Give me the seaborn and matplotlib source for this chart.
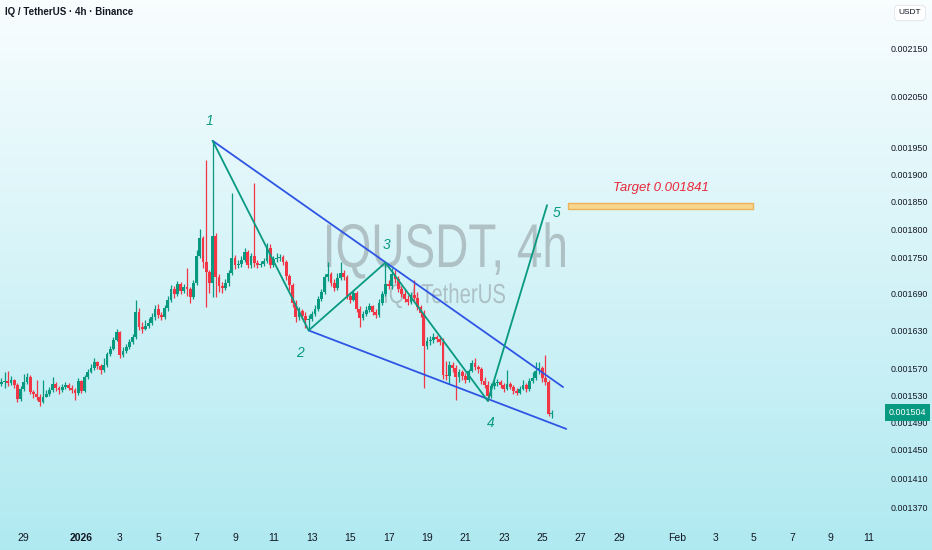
import numpy as np
import pandas as pd
import matplotlib
matplotlib.use('Agg')
import matplotlib.pyplot as plt
import matplotlib.transforms as mtransforms
from matplotlib import font_manager as fm
from matplotlib.textpath import TextPath
from matplotlib.patches import PathPatch
from matplotlib.ticker import NullLocator
import seaborn as sns

# IQ/USDT 4h candles, prices in 1e-6 USDT
opens = [1547, 1550, 1551, 1548, 1553, 1545, 1524, 1539, 1550, 1557,
         1535, 1532, 1527, 1520, 1527, 1532, 1538, 1547, 1541, 1538,
         1542, 1545, 1541, 1538, 1533, 1551, 1536, 1557, 1565, 1571,
         1580, 1574, 1568, 1576, 1593, 1601, 1615, 1628, 1591, 1597,
         1604, 1612, 1620, 1660, 1636, 1632, 1637, 1642, 1652, 1665,
         1655, 1652, 1666, 1679, 1698, 1689, 1706, 1694, 1701, 1698,
         1684, 1708, 1753, 1785, 1743, 1726, 1708, 1788, 1718, 1703,
         1699, 1708, 1724, 1750, 1738, 1740, 1747, 1760, 1738, 1753,
         1741, 1738, 1740, 1745, 1767, 1738, 1748, 1750, 1752, 1743,
         1719, 1704, 1675, 1652, 1661, 1653, 1647, 1648, 1657, 1665,
         1681, 1693, 1718, 1723, 1708, 1699, 1716, 1724, 1718, 1686,
         1679, 1691, 1665, 1650, 1657, 1663, 1670, 1660, 1655, 1675,
         1689, 1706, 1703, 1723, 1714, 1698, 1689, 1681, 1676, 1688,
         1683, 1668, 1658, 1605, 1613, 1615, 1620, 1616, 1612, 1560,
         1559, 1576, 1571, 1557, 1565, 1559, 1553, 1567, 1579, 1573,
         1570, 1551, 1545, 1529, 1544, 1548, 1550, 1545, 1539, 1547,
         1542, 1536, 1533, 1539, 1545, 1539, 1551, 1556, 1567, 1571,
         1556, 1550, 1502]
closes = [1550, 1551, 1548, 1553, 1545, 1524, 1539, 1550, 1557, 1535,
          1532, 1527, 1520, 1527, 1532, 1538, 1547, 1541, 1538, 1542,
          1545, 1541, 1538, 1533, 1551, 1536, 1557, 1565, 1571, 1580,
          1574, 1568, 1576, 1593, 1601, 1615, 1628, 1591, 1597, 1604,
          1612, 1620, 1660, 1636, 1632, 1637, 1642, 1652, 1665, 1655,
          1652, 1666, 1679, 1698, 1689, 1706, 1694, 1701, 1698, 1684,
          1708, 1753, 1785, 1743, 1726, 1708, 1788, 1718, 1703, 1699,
          1708, 1724, 1750, 1738, 1740, 1747, 1760, 1738, 1753, 1741,
          1738, 1740, 1745, 1767, 1738, 1748, 1750, 1752, 1743, 1719,
          1704, 1675, 1652, 1661, 1653, 1647, 1648, 1657, 1665, 1681,
          1693, 1718, 1723, 1708, 1699, 1716, 1724, 1718, 1686, 1679,
          1691, 1665, 1650, 1657, 1663, 1670, 1660, 1655, 1675, 1689,
          1706, 1703, 1723, 1714, 1698, 1689, 1681, 1676, 1688, 1683,
          1668, 1658, 1605, 1613, 1615, 1620, 1616, 1612, 1560, 1559,
          1576, 1571, 1557, 1565, 1559, 1553, 1567, 1579, 1573, 1570,
          1551, 1545, 1529, 1544, 1548, 1550, 1545, 1539, 1547, 1542,
          1536, 1533, 1539, 1545, 1539, 1551, 1556, 1567, 1571, 1556,
          1550, 1502, 1504]
highs = [1556, 1565, 1567, 1559, 1554, 1548, 1544, 1562, 1563, 1560,
         1538, 1553, 1532, 1553, 1538, 1542, 1557, 1550, 1544, 1547,
         1550, 1548, 1545, 1541, 1556, 1553, 1560, 1570, 1577, 1587,
         1582, 1577, 1587, 1596, 1605, 1620, 1632, 1629, 1604, 1609,
         1616, 1624, 1679, 1666, 1644, 1647, 1650, 1658, 1671, 1673,
         1660, 1671, 1686, 1704, 1703, 1711, 1709, 1706, 1733, 1701,
         1713, 1764, 1800, 1788, 1926, 1730, 1963, 1793, 1723, 1709,
         1714, 1730, 1865, 1755, 1747, 1753, 1767, 1764, 1759, 1884,
         1747, 1745, 1750, 1776, 1774, 1753, 1759, 1757, 1755, 1747,
         1723, 1708, 1679, 1668, 1665, 1660, 1655, 1661, 1671, 1686,
         1698, 1723, 1743, 1726, 1714, 1724, 1743, 1730, 1721, 1693,
         1696, 1694, 1670, 1661, 1670, 1675, 1671, 1665, 1681, 1694,
         1741, 1713, 1733, 1730, 1719, 1703, 1698, 1688, 1693, 1713,
         1693, 1671, 1663, 1620, 1621, 1626, 1623, 1621, 1618, 1582,
         1582, 1580, 1576, 1570, 1568, 1563, 1570, 1583, 1587, 1576,
         1573, 1557, 1551, 1548, 1553, 1554, 1553, 1548, 1568, 1550,
         1545, 1541, 1544, 1553, 1548, 1556, 1565, 1580, 1580, 1574,
         1591, 1553, 1508]
lows = [1544, 1541, 1544, 1545, 1541, 1520, 1521, 1536, 1547, 1532,
        1526, 1523, 1514, 1518, 1527, 1529, 1535, 1536, 1532, 1535,
        1539, 1538, 1533, 1523, 1530, 1533, 1535, 1554, 1563, 1568,
        1570, 1562, 1565, 1573, 1590, 1599, 1613, 1587, 1588, 1594,
        1601, 1609, 1616, 1631, 1626, 1631, 1634, 1639, 1647, 1650,
        1647, 1648, 1661, 1676, 1683, 1686, 1689, 1691, 1686, 1675,
        1681, 1704, 1750, 1733, 1668, 1691, 1684, 1684, 1693, 1691,
        1696, 1703, 1721, 1731, 1733, 1735, 1743, 1733, 1733, 1735,
        1733, 1735, 1736, 1741, 1733, 1735, 1743, 1745, 1738, 1713,
        1696, 1668, 1644, 1647, 1648, 1634, 1631, 1645, 1653, 1661,
        1678, 1689, 1711, 1703, 1694, 1696, 1713, 1713, 1681, 1675,
        1678, 1660, 1636, 1647, 1653, 1660, 1655, 1650, 1652, 1671,
        1686, 1698, 1698, 1708, 1693, 1684, 1676, 1671, 1673, 1678,
        1663, 1652, 1541, 1601, 1607, 1610, 1612, 1607, 1554, 1553,
        1547, 1565, 1523, 1550, 1553, 1548, 1550, 1565, 1568, 1563,
        1547, 1541, 1521, 1526, 1539, 1544, 1541, 1535, 1538, 1539,
        1532, 1530, 1532, 1538, 1535, 1536, 1548, 1553, 1562, 1550,
        1545, 1499, 1496]
first_candle = '2025-12-27 20:00'

# drawn pattern: waves 1-5 and the falling wedge
wave_times = ['2026-01-07 20:00', '2026-01-12 20:00', '2026-01-16 20:00',
              '2026-01-22 04:00', '2026-01-25 06:00']
wave_prices = [1963, 1630, 1742, 1521, 1843]
wave_names = ['1', '2', '3', '4', '5']
upper_times = ['2026-01-07 20:00', '2026-01-26 02:00']
upper_prices = [1963, 1542]
lower_times = ['2026-01-12 20:00', '2026-01-26 06:00']
lower_prices = [1630, 1480]
target_times = ['2026-01-26 08:00', '2026-02-05 00:00']
target_prices = [1836, 1847]
target_value = 0.001841
last_price = 0.001504

price_ticks = [0.002150, 0.002050, 0.001950, 0.001900, 0.001850, 0.001800,
               0.001750, 0.001690, 0.001630, 0.001570, 0.001530, 0.001490,
               0.001450, 0.001410, 0.001370]
date_ticks = ['2025-12-29', '2026-01-01', '2026-01-03', '2026-01-05', '2026-01-07',
              '2026-01-09', '2026-01-11', '2026-01-13', '2026-01-15', '2026-01-17',
              '2026-01-19', '2026-01-21', '2026-01-23', '2026-01-25', '2026-01-27',
              '2026-01-29', '2026-02-01', '2026-02-03', '2026-02-05', '2026-02-07',
              '2026-02-09', '2026-02-11']
date_labels = ['29', '2026', '3', '5', '7', '9', '11', '13', '15', '17', '19', '21',
               '23', '25', '27', '29', 'Feb', '3', '5', '7', '9', '11']

sns.set_theme(style='white')
have = {f.name for f in fm.fontManager.ttflist}
narrow = 'Liberation Sans Narrow' if 'Liberation Sans Narrow' in have else 'Liberation Sans'
plt.rcParams['font.family'] = [narrow, 'DejaVu Sans']

GREEN = '#089981'
RED = '#f23645'
BLUE = '#2f55e4'
TEXT = '#131722'

day0 = pd.Timestamp('2026-01-01')


def to_days(stamps):
    return np.asarray((pd.DatetimeIndex(stamps) - day0) / pd.Timedelta(days=1))


def condensed_text(fig, s, left, right, baseline, cap_px, **kw):
    # text squeezed to span [left, right] pixels, cap height cap_px
    tp = TextPath((0, 0), s, size=1, prop=fm.FontProperties(family='Liberation Sans'))
    ext = tp.get_extents()
    sy = cap_px / 0.729
    sx = (right - left) / ext.width
    H = fig.get_figheight() * fig.dpi
    tr = mtransforms.Affine2D().translate(-ext.x0, 0).scale(sx, sy).translate(left, H - baseline)
    fig.patches.append(PathPatch(tr.transform_path(tp), transform=None, lw=0, **kw))


times = pd.date_range(first_candle, periods=len(closes), freq='4h')
t = to_days(times)
o = np.array(opens) * 1e-6
c = np.array(closes) * 1e-6
h = np.array(highs) * 1e-6
lo = np.array(lows) * 1e-6

fig = plt.figure(figsize=(9.32, 5.5), dpi=100)

# background gradient
bg = fig.add_axes([0, 0, 1, 1])
top = np.array([0.975, 0.993, 0.998])
bottom = np.array([0.69, 0.915, 0.945])
grad = np.linspace(0, 1, 256)[:, None] * (bottom - top) + top
bg.imshow(grad[:, None, :], aspect='auto', extent=[0, 1, 0, 1])
bg.axis('off')

# watermark
condensed_text(fig, 'IQUSDT, 4h', 327, 565, 267, 45, fc='#8e989c', alpha=0.55, zorder=1)
condensed_text(fig, 'IQ / TetherUS', 385, 505, 303, 20, fc='#8e989c', alpha=0.55, zorder=1)

ax = fig.add_axes([0, 31 / 550, 885 / 932, 519 / 550])
ax.set_zorder(2)
ax.patch.set_alpha(0)
for s in ax.spines.values():
    s.set_visible(False)

ax.set_yscale('log')
ax.set_ylim(1354.9e-6, 2253.6e-6)
ax.set_xlim(-4.24, 41.85)

# candles
col = np.where(c >= o, GREEN, RED)
ax.vlines(t, lo, h, colors=col, lw=0.9, zorder=3)
body = np.maximum(np.abs(c - o), 0.9e-6)
ax.bar(t, body, bottom=np.minimum(o, c), width=0.15, color=col, lw=0, zorder=4)

# wedge and waves
sns.lineplot(x=to_days(upper_times), y=np.array(upper_prices) * 1e-6, ax=ax,
             color=BLUE, lw=1.3, sort=False, estimator=None, zorder=5)
sns.lineplot(x=to_days(lower_times), y=np.array(lower_prices) * 1e-6, ax=ax,
             color=BLUE, lw=1.3, sort=False, estimator=None, zorder=5)
wd = to_days(wave_times)
wp = np.array(wave_prices) * 1e-6
sns.lineplot(x=wd, y=wp, ax=ax, color=GREEN, lw=1.3, sort=False, estimator=None, zorder=6)
offsets = [(-2, 14), (-6, -16), (1, 13), (2, -16), (7, -6)]
for name, x, y, off in zip(wave_names, wd, wp, offsets):
    ax.annotate(name, (x, y), xytext=off, textcoords='offset points', ha='center',
                va='center', color=GREEN, fontsize=10, fontstyle='italic', zorder=7)

# target zone
td = to_days(target_times)
ax.fill_between(td, target_prices[0] * 1e-6, target_prices[1] * 1e-6,
                facecolor='#f7d58c', edgecolor='#eeb35a', lw=1.0, zorder=3)
ax.annotate(f'Target {target_value:.6f}', (td.mean(), target_prices[1] * 1e-6),
            xytext=(0, 11), textcoords='offset points', ha='center', va='center',
            color='#e8283a', fontsize=9.5, fontstyle='italic', zorder=7)

# axes ticks
ax.yaxis.tick_right()
ax.yaxis.set_minor_locator(NullLocator())
ax.set_yticks(price_ticks)
ax.set_yticklabels([f'{p:.6f}' for p in price_ticks])
ax.set_xticks(to_days(date_ticks))
ax.set_xticklabels(date_labels)
ax.get_xticklabels()[1].set_fontweight('bold')
ax.tick_params(axis='y', length=0, pad=4, labelsize=6.4, labelcolor=TEXT)
ax.tick_params(axis='x', length=0, pad=10, labelsize=7.5, labelcolor=TEXT)
ax.grid(False)

# last price badge
tr = mtransforms.blended_transform_factory(ax.transAxes, ax.transData)
ax.text(1.0045, last_price, f'{last_price:.6f}', transform=tr, ha='left', va='center',
        color='white', fontsize=6.4, zorder=10, clip_on=False,
        bbox=dict(boxstyle='square,pad=0.4', fc=GREEN, ec='none'))

fig.text(5 / 932, 1 - 12 / 550, 'IQ / TetherUS · 4h · Binance', ha='left', va='center',
         fontsize=7, color=TEXT, fontweight='bold')
fig.text(910 / 932, 1 - 13 / 550, 'USDT', ha='center', va='center', fontsize=6, color=TEXT,
         bbox=dict(boxstyle='round,pad=0.5', fc='white', ec='#e0e3eb', lw=0.6))

fig.savefig('out.png', dpi=100)
